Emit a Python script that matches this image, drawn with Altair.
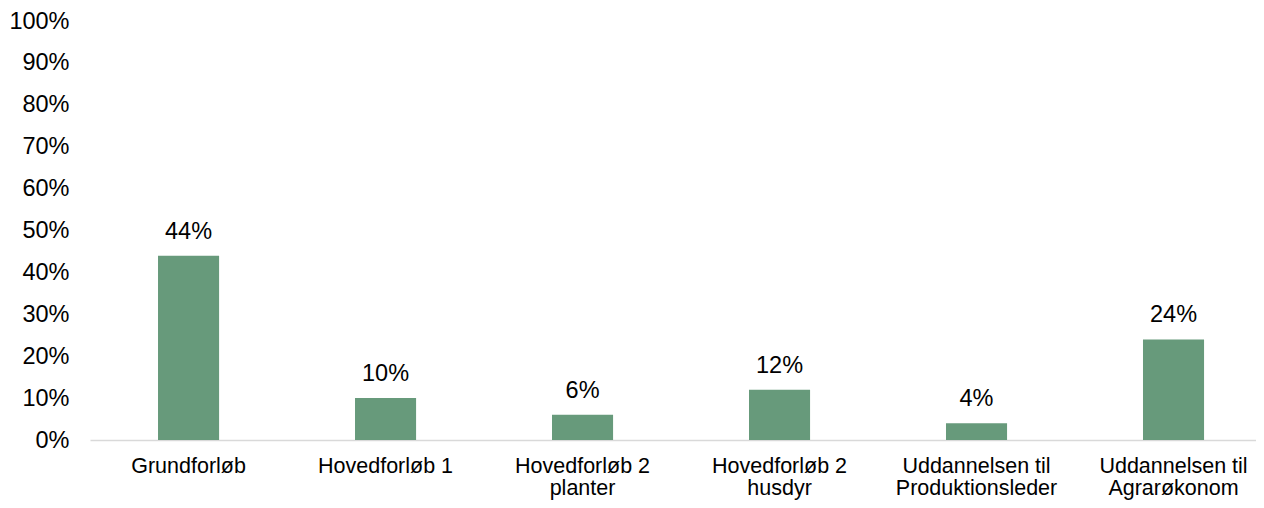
import altair as alt
import pandas as pd

categories = [
    "Grundforløb",
    "Hovedforløb 1",
    "Hovedforløb 2|planter",
    "Hovedforløb 2|husdyr",
    "Uddannelsen til|Produktionsleder",
    "Uddannelsen til|Agrarøkonom",
]
values = [0.44, 0.10, 0.06, 0.12, 0.04, 0.24]
y_ticks = [i / 10 for i in range(11)]

df = pd.DataFrame({"cat": categories, "val": values})

FONT = "Liberation Sans"
FS = 23.5
BAR = "#679A7B"

x = alt.X(
    "cat:N",
    sort=categories,
    title=None,
    scale=alt.Scale(paddingInner=0.69, paddingOuter=0.3045, align=0.567),
    axis=alt.Axis(
        labelAngle=0,
        labelExpr="split(datum.label, '|')",
        labelFont=FONT,
        labelFontSize=21.5,
        labelColor="#000000",
        labelPadding=15,
        labelLineHeight=22.5,
        labelBaseline="top",
        ticks=False,
        domainColor="#D9D9D9",
        domainWidth=1.5,
        labelLimit=400,
    ),
)
y = alt.Y(
    "val:Q",
    title=None,
    scale=alt.Scale(domain=[0, 1], nice=False),
    axis=alt.Axis(
        values=y_ticks,
        format=".0%",
        grid=False,
        domain=False,
        ticks=False,
        labelFont=FONT,
        labelFontSize=FS,
        labelColor="#000000",
        labelPadding=21,
    ),
)

bars = alt.Chart(df).mark_bar(color=BAR).encode(x=x, y=y)
text = alt.Chart(df).mark_text(
    font=FONT, fontSize=FS, color="#000000", baseline="alphabetic", dy=-17
).encode(x=alt.X("cat:N", sort=categories), y="val:Q", text=alt.Text("val:Q", format=".0%"))

chart = (
    alt.layer(bars, text)
    .properties(
        width=1166,
        height=419,
        autosize=alt.AutoSizeParams(type="none"),
        padding={"left": 82, "top": 13, "right": 0, "bottom": 60},
        background="white",
    )
    .configure_view(stroke=None)
)

chart.save("out.html", embed_options={"renderer": "svg", "actions": False})
